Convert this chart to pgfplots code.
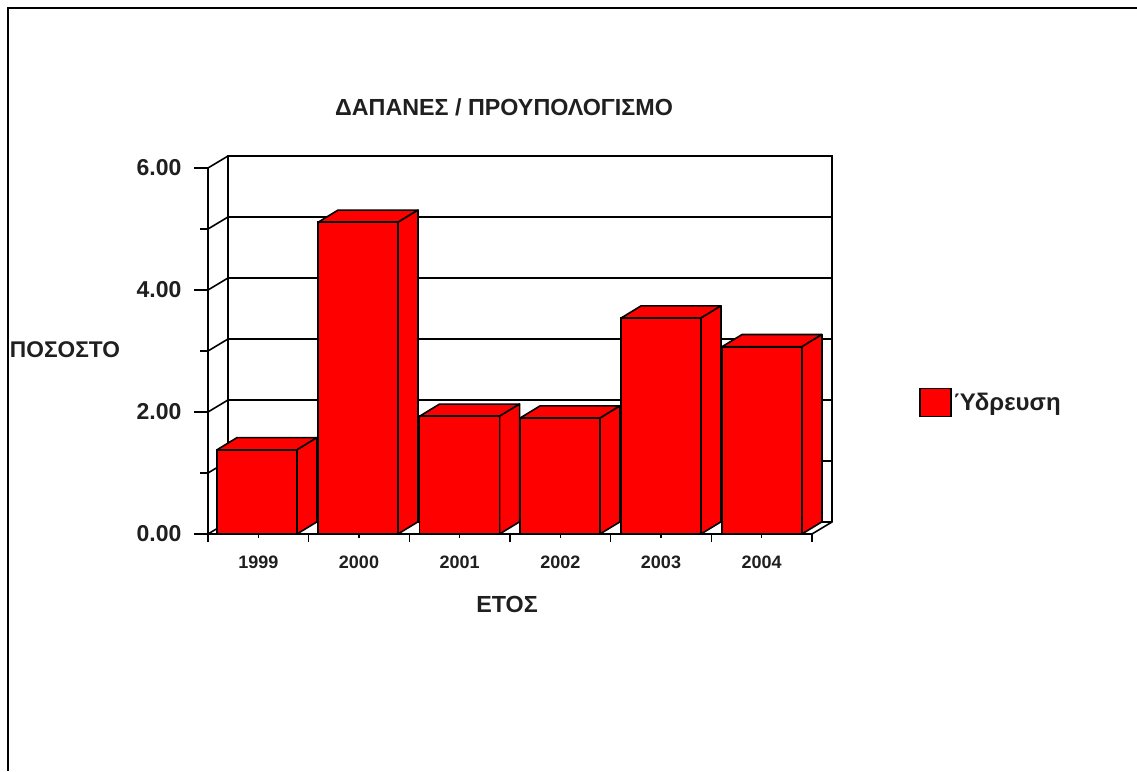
\documentclass[border=0pt]{standalone}
\usepackage{fontspec}
\setmainfont{Liberation Sans}
\usepackage{pgfplots}
\pgfplotsset{compat=1.18}

\definecolor{ink}{gray}{0.12}

\pgfplotsset{
    plane/.style={
        at={(208pt,237pt)}, anchor=origin,
        scale only axis, width=604pt, height=366pt,
        xmin=0, xmax=6, ymin=0, ymax=6,
        clip=false,
        axis line style={line width=1.6pt},
        tick style={black, line width=1.6pt},
    },
    wall/.style={black, line width=1.6pt, no markers, forget plot},
    face/.style={black, fill=red, line width=1.6pt, line join=round, no markers, forget plot},
}

\begin{document}
\begin{tikzpicture}[x=1pt, y=1pt]
\path[use as bounding box] (0,0) rectangle (1137,771);
\draw[black, line width=1.6pt] (8,0) -- (8,763) -- (1137,763);

% y axis and back wall
\begin{axis}[
    plane,
    axis x line=none,
    axis y line=left,
    every outer y axis line/.append style={-},
    every inner y axis line/.append style={-},
    y axis line style={-},
    tick align=outside,
    ytick={0,2,4,6},
    minor ytick={1,3,5},
    major tick length=14pt,
    minor tick length=8pt,
    yticklabel style={font=\fontsize{23}{26}\selectfont\bfseries, text=ink, xshift=-9pt},
    /pgf/number format/assume math mode=true,
    /pgf/number format/fixed,
    /pgf/number format/fixed zerofill,
    /pgf/number format/precision=2,
]
% back wall outline and grid
\addplot[wall] coordinates {(0.199,0.197) (0.199,6.197) (6.199,6.197) (6.199,0.197) (6,0)};
\addplot[wall] coordinates {(0.199,0.197) (6.199,0.197)};
\addplot[wall] coordinates {(0.199,1.197) (6.199,1.197)};
\addplot[wall] coordinates {(0.199,2.197) (6.199,2.197)};
\addplot[wall] coordinates {(0.199,3.197) (6.199,3.197)};
\addplot[wall] coordinates {(0.199,4.197) (6.199,4.197)};
\addplot[wall] coordinates {(0.199,5.197) (6.199,5.197)};
% side wall
\addplot[wall] coordinates {(0,0) (0.199,0.197)};
\addplot[wall] coordinates {(0,1) (0.199,1.197)};
\addplot[wall] coordinates {(0,2) (0.199,2.197)};
\addplot[wall] coordinates {(0,3) (0.199,3.197)};
\addplot[wall] coordinates {(0,4) (0.199,4.197)};
\addplot[wall] coordinates {(0,5) (0.199,5.197)};
\addplot[wall] coordinates {(0,6) (0.199,6.197)};
\end{axis}

% bars and x axis
\begin{axis}[
    plane,
    axis y line=none,
    axis x line=bottom,
    every outer x axis line/.append style={-},
    every inner x axis line/.append style={-},
    x axis line style={-},
    tick align=outside,
    xtick={0.5,1.5,2.5,3.5,4.5,5.5},
    xticklabels={1999,2000,2001,2002,2003,2004},
    minor xtick={0,1,2,3,4,5,6},
    major tick length=4pt,
    minor tick length=8pt,
    xticklabel style={font=\fontsize{18}{22}\selectfont\bfseries, text=ink, yshift=-14pt},
    legend style={
        at={(axis cs:7.06,2.155)}, anchor=west, draw=none, fill=none,
        font=\fontsize{24}{27}\selectfont\bfseries, text=ink,
        inner sep=0pt, row sep=0pt,
    },
    legend cell align=left,
    legend image code/.code={
        \draw[black, fill=red, line width=1.6pt] (0pt,-14pt) rectangle (31pt,14pt);
    },
]
% tops
\addplot[face] coordinates {(0.089,1.38) (0.288,1.58) (1.083,1.58) (0.884,1.38) (0.089,1.38)};
\addplot[face] coordinates {(1.093,5.11) (1.292,5.31) (2.086,5.31) (1.887,5.11) (1.093,5.11)};
\addplot[face] coordinates {(2.101,1.93) (2.300,2.13) (3.095,2.13) (2.896,1.93) (2.101,1.93)};
\addplot[face] coordinates {(3.099,1.90) (3.298,2.10) (4.093,2.10) (3.894,1.90) (3.099,1.90)};
\addplot[face] coordinates {(4.103,3.54) (4.302,3.74) (5.096,3.74) (4.897,3.54) (4.103,3.54)};
\addplot[face] coordinates {(5.106,3.07) (5.305,3.27) (6.099,3.27) (5.900,3.07) (5.106,3.07)};
% sides
\addplot[face] coordinates {(0.884,1.38) (1.083,1.58) (1.083,0.20) (0.884,0) (0.884,1.38)};
\addplot[face] coordinates {(1.887,5.11) (2.086,5.31) (2.086,0.20) (1.887,0) (1.887,5.11)};
\addplot[face] coordinates {(2.896,1.93) (3.095,2.13) (3.095,0.20) (2.896,0) (2.896,1.93)};
\addplot[face] coordinates {(3.894,1.90) (4.093,2.10) (4.093,0.20) (3.894,0) (3.894,1.90)};
\addplot[face] coordinates {(4.897,3.54) (5.096,3.74) (5.096,0.20) (4.897,0) (4.897,3.54)};
\addplot[face] coordinates {(5.900,3.07) (6.099,3.27) (6.099,0.20) (5.900,0) (5.900,3.07)};
% fronts
\addplot[ybar, bar width=80pt, bar shift=0pt, black, fill=red, line width=1.6pt] coordinates {
    (0.4865,1.38) (1.49,5.11) (2.4985,1.93) (3.4965,1.90) (4.50,3.54) (5.503,3.07)};
\addlegendentry{Ύδρευση}
\end{axis}

\node[font=\fontsize{23.3}{27}\selectfont\bfseries, text=ink] at (504,664) {ΔΑΠΑΝΕΣ / ΠΡΟΥΠΟΛΟΓΙΣΜΟ};
\node[font=\fontsize{22.7}{27}\selectfont\bfseries, text=ink] at (65,421) {ΠΟΣΟΣΤΟ};
\node[font=\fontsize{23.3}{27}\selectfont\bfseries, text=ink] at (507,167) {ΕΤΟΣ};
\end{tikzpicture}
\end{document}
